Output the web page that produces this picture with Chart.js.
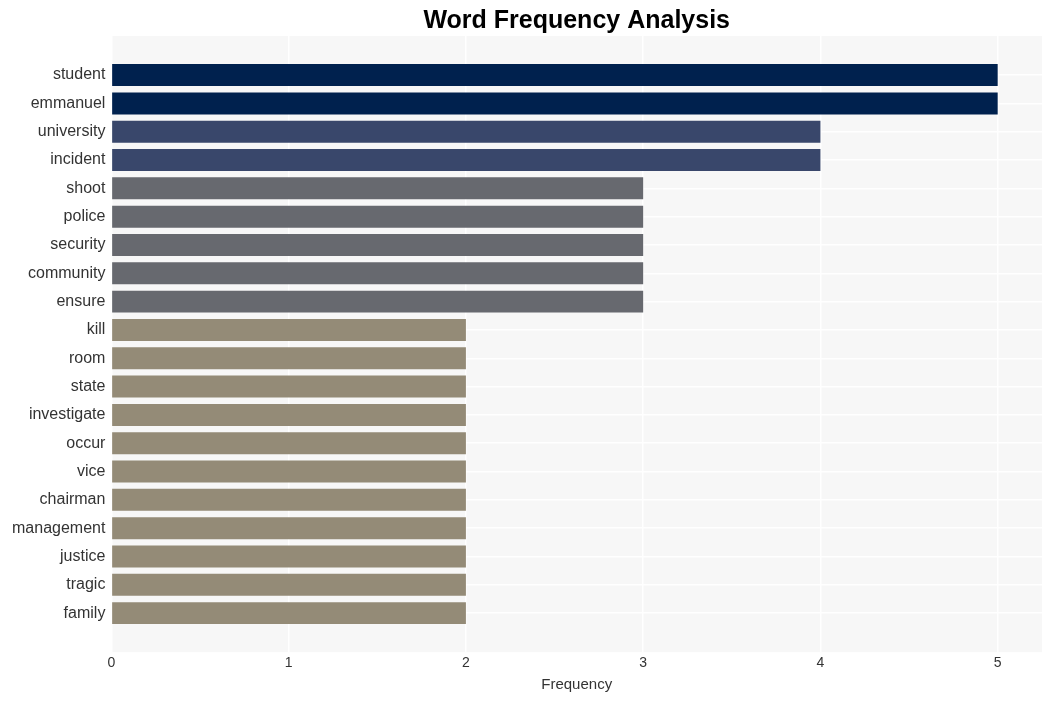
<!DOCTYPE html>
<html>
<head>
<meta charset="utf-8">
<script src="https://cdn.jsdelivr.net/npm/chart.js@4/dist/chart.umd.min.js"></script>
<style>
  html, body { margin: 0; padding: 0; background: #ffffff; }
  #wrap { width: 1052px; height: 701px; }
</style>
</head>
<body>
<div id="wrap"><canvas id="freqChart" width="1052" height="701"></canvas></div>
<script>
const words = ['student', 'emmanuel', 'university', 'incident', 'shoot', 'police', 'security',
    'community', 'ensure', 'kill', 'room', 'state', 'investigate', 'occur', 'vice', 'chairman',
    'management', 'justice', 'tragic', 'family'];
const counts = [5, 5, 4, 4, 3, 3, 3, 3, 3, 2, 2, 2, 2, 2, 2, 2, 2, 2, 2, 2];
const xTicks = [0, 1, 2, 3, 4, 5];

// shade by frequency
const shade = { 5: '#00214e', 4: '#39476b', 3: '#67696f', 2: '#948b77' };

const plotBg = {
    id: 'plotBg',
    beforeDraw(chart) {
        const { ctx, chartArea } = chart;
        ctx.save();
        ctx.fillStyle = '#f7f7f7';
        ctx.fillRect(chartArea.left, chartArea.top, chartArea.right - chartArea.left, chartArea.bottom - chartArea.top);
        ctx.restore();
    }
};

const ctx = document.getElementById('freqChart').getContext('2d');
new Chart(ctx, {
    type: 'bar',
    data: {
        datasets: [{
            data: counts.map((c, i) => ({ x: c, y: i })),
            backgroundColor: counts.map(c => shade[c]),
            categoryPercentage: 0.8,
            barPercentage: 0.97
        }]
    },
    options: {
        indexAxis: 'y',
        responsive: false,
        animation: false,
        layout: { padding: { left: 6, right: 10, top: 0, bottom: 7 } },
        plugins: {
            legend: { display: false },
            tooltip: { enabled: false },
            title: {
                display: true,
                text: 'Word Frequency Analysis',
                fullSize: false,
                color: '#000000',
                font: { family: 'Liberation Sans, Arial, sans-serif', size: 25, weight: 'bold' },
                padding: { top: 6, bottom: 0 }
            }
        },
        scales: {
            x: {
                type: 'linear',
                min: 0,
                max: 5.25,
                afterBuildTicks: axis => { axis.ticks = xTicks.map(v => ({ value: v })); },
                ticks: { color: '#333333', font: { family: 'Liberation Sans, Arial, sans-serif', size: 14 }, padding: 3 },
                grid: { color: '#ffffff', lineWidth: 1.5, drawTicks: false },
                border: { display: false },
                title: {
                    display: true,
                    text: 'Frequency',
                    color: '#333333',
                    font: { family: 'Liberation Sans, Arial, sans-serif', size: 15 },
                    padding: { top: 1, bottom: 0 }
                }
            },
            y: {
                type: 'linear',
                reverse: true,
                offset: false,
                min: -1.38,
                max: words.length - 1 + 1.38,
                afterBuildTicks: axis => { axis.ticks = words.map((w, i) => ({ value: i })); },
                ticks: {
                    color: '#333333',
                    font: { family: 'Liberation Sans, Arial, sans-serif', size: 16 },
                    padding: 6,
                    callback: v => words[v]
                },
                grid: { color: '#ffffff', lineWidth: 1.5, drawTicks: false, offset: false },
                border: { display: false }
            }
        }
    },
    plugins: [plotBg]
});
</script>
</body>
</html>
